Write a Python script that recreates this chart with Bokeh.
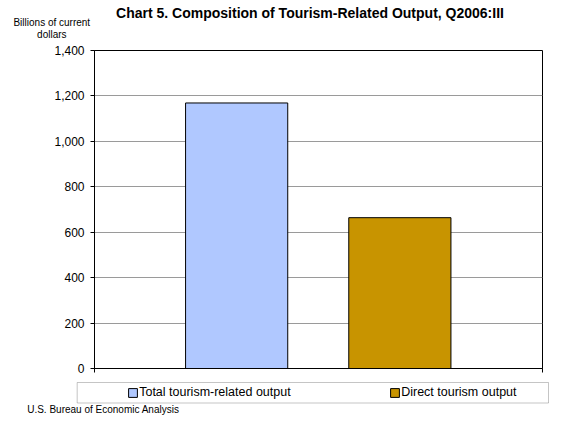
from bokeh.plotting import figure
from bokeh.layouts import column
from bokeh.models import (Range1d, FixedTicker, NumeralTickFormatter, Label, Legend,
                          LegendItem, BoxAnnotation, ColumnDataSource)
from bokeh.embed import file_html
from bokeh.resources import INLINE

# ---- data ----
categories = ["Total tourism-related output", "Direct tourism output"]
values = [1169, 664]
colors = ["#B0C8FF", "#C89400"]
y_ticks = [0, 200, 400, 600, 800, 1000, 1200, 1400]
title_text = "Chart 5. Composition of Tourism-Related Output, Q2006:III"
y_label_lines = ["Billions of current", "dollars"]
source_text = "U.S. Bureau of Economic Analysis"

FONT = "Liberation Sans"
W = 549
TOP_H, MAIN_H, BOT_H = 44, 332, 41
X_START, X_END = -0.871, 1.874

src = ColumnDataSource(dict(x=list(range(len(values))), top=values, color=colors,
                            name=categories))


def blank_fig(h):
    f = figure(width=W, height=h, output_backend="svg", toolbar_location=None,
               x_range=Range1d(0, W), y_range=Range1d(0, h),
               x_axis_location=None, y_axis_location=None, min_border=0,
               frame_align=False,
               background_fill_color="white", border_fill_color="white")
    f.outline_line_color = None
    f.grid.visible = False
    return f


# ---- top strip: title and unit label ----
top = blank_fig(TOP_H)
top.add_layout(Label(x=309.5, y=32, text=title_text, text_align="center",
                     text_baseline="alphabetic", text_font=FONT, text_font_size="14px",
                     text_font_style="bold", text_color="black"))
for i, line in enumerate(y_label_lines):
    top.add_layout(Label(x=51.3, y=22.3 - 11.8 * i, text=line, text_align="center",
                         text_baseline="alphabetic", text_font=FONT,
                         text_font_size="10px", text_color="black"))

# ---- main chart ----
p = figure(width=W, height=MAIN_H, output_backend="svg", toolbar_location=None,
           x_range=Range1d(X_START, X_END), y_range=Range1d(y_ticks[0], y_ticks[-1]),
           min_border_left=94, min_border_right=7, min_border_top=6, min_border_bottom=8,
           frame_align=False,
           background_fill_color="white", border_fill_color="white")

bars = p.vbar(x="x", top="top", width=0.626, source=src, fill_color="color",
              line_color="black", line_width=1)

p.yaxis.ticker = FixedTicker(ticks=y_ticks)
p.yaxis.formatter = NumeralTickFormatter(format="0,0")
p.yaxis.major_label_text_font = FONT
p.yaxis.major_label_text_font_size = "12px"
p.yaxis.major_label_text_color = "black"
p.yaxis.major_tick_out = 4
p.yaxis.major_tick_in = 0
p.yaxis.minor_tick_out = 0
p.yaxis.minor_tick_in = 0
p.yaxis.major_label_standoff = 6
p.yaxis.axis_line_color = "black"
p.yaxis.major_tick_line_color = "black"

p.xaxis.ticker = FixedTicker(ticks=[X_START, X_END])
p.xaxis.major_label_overrides = {X_START: "", X_END: ""}
p.xaxis.major_tick_out = 4
p.xaxis.major_tick_in = 0
p.xaxis.minor_tick_out = 0
p.xaxis.axis_line_color = "black"
p.xaxis.major_tick_line_color = "black"

p.xgrid.visible = False
p.ygrid.grid_line_color = "#9a9a9a"
p.ygrid.grid_line_width = 1
p.outline_line_color = "black"
p.outline_line_width = 1

# ---- bottom strip: legend and source ----
bot = blank_fig(BOT_H)
# hidden copy of the bars that feeds the legend glyphs
leg_bars = bot.vbar(x="x", top="top", width=0.626, source=src,
                    fill_color="color", line_color="black", line_width=1, visible=False)
bot.add_layout(BoxAnnotation(left=76.7, right=548, top=35, bottom=14.5,
                             fill_color="white", fill_alpha=1,
                             line_color="#404040", line_width=1))
items = [LegendItem(label=categories[i], renderers=[leg_bars], index=i)
         for i in range(len(categories))]
legend = Legend(items=items, orientation="horizontal", location=(124.2, 14.8),
                padding=3, margin=0, spacing=50, label_width=200, label_height=14,
                glyph_width=11, glyph_height=11, label_standoff=1,
                label_text_font=FONT, label_text_font_size="12.5px", label_text_color="black",
                border_line_alpha=0, background_fill_alpha=0)
bot.add_layout(legend)
bot.add_layout(Label(x=26.7, y=8, text=source_text, text_align="left",
                     text_baseline="alphabetic", text_font=FONT, text_font_size="10px",
                     text_color="black"))

layout = column(top, p, bot, spacing=0)
open("out.html", "w").write(file_html(layout, INLINE))
